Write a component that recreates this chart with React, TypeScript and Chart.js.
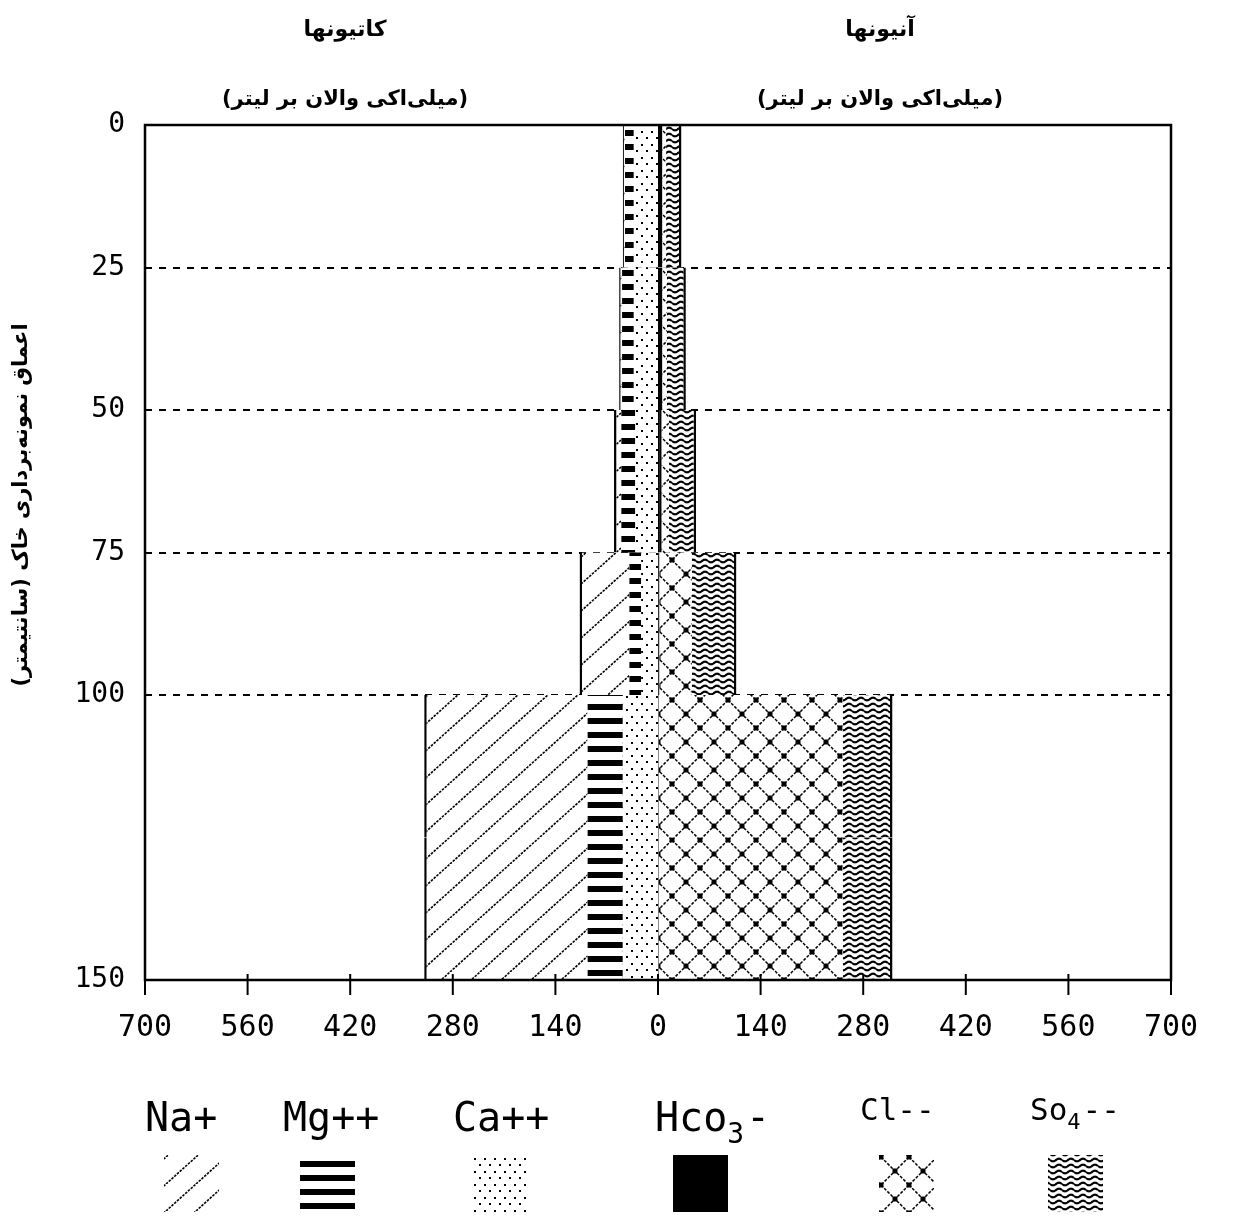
import { useEffect, useRef } from "react";
import { Chart, registerables } from "chart.js";

Chart.register(...registerables);

// Soil sampling layers (cm) and their ion concentrations (meq/L)
const depthBounds = [0, 25, 50, 75, 100, 150];
const depthTicks = [0, 25, 50, 75, 100, 150];
const xTickStep = 140;
const xLimit = 700;

// cations (drawn to the left)
const naValues = [3, 4, 10, 68, 223];
const mgValues = [12, 16, 19, 16, 48];
const caValues = [33, 33, 31, 23, 48];
// anions (drawn to the right)
const hco3Values = [6, 6, 5, 2, 1];
const clValues = [5, 6, 10, 44, 251];
const so4Values = [21, 26, 37, 61, 68];

const slotSize = 25;

// spread each layer value over the 25 cm slots it covers
function expand<T>(values: T[]): T[] {
  const out: T[] = [];
  for (let i = 0; i < values.length; i++) {
    const n = Math.round((depthBounds[i + 1] - depthBounds[i]) / slotSize);
    for (let k = 0; k < n; k++) out.push(values[i]);
  }
  return out;
}

const slotLabels: string[] = [];
for (let d = depthBounds[0]; d < depthBounds[depthBounds.length - 1]; d += slotSize) {
  slotLabels.push(String(d));
}

const monoFont = '"DejaVu Sans Mono", monospace';
const arabicFont = '"DejaVu Sans", sans-serif';

function makeTile(
  base: CanvasRenderingContext2D,
  w: number,
  h: number,
  draw: (c: CanvasRenderingContext2D) => void
): CanvasPattern {
  const tile = document.createElement("canvas");
  tile.width = w;
  tile.height = h;
  const c = tile.getContext("2d")!;
  c.fillStyle = "#fff";
  c.fillRect(0, 0, w, h);
  c.fillStyle = "#000";
  c.strokeStyle = "#000";
  draw(c);
  return base.createPattern(tile, "repeat")!;
}

function makePatterns(ctx: CanvasRenderingContext2D) {
  const na = makeTile(ctx, 30, 27, (c) => {
    c.lineWidth = 1.6;
    c.setLineDash([2.5, 1.2]);
    for (const o of [-30, 0, 30]) {
      c.beginPath();
      c.moveTo(o, 27);
      c.lineTo(o + 30, 0);
      c.stroke();
    }
  });
  const mg = makeTile(ctx, 8, 14, (c) => {
    c.fillRect(0, 4, 8, 6);
  });
  const ca = makeTile(ctx, 10, 13, (c) => {
    c.fillRect(1, 1, 2, 2);
    c.fillRect(6, 7, 2, 2);
  });
  const cl = makeTile(ctx, 28, 28, (c) => {
    c.lineWidth = 1.5;
    c.setLineDash([3, 1.5]);
    c.beginPath();
    c.moveTo(0, 0);
    c.lineTo(28, 28);
    c.moveTo(28, 0);
    c.lineTo(0, 28);
    c.stroke();
    const n = 5;
    const h = n / 2;
    c.fillRect(14 - h, 14 - h, n, n);
    c.fillRect(-h, -h, n, n);
    c.fillRect(28 - h, -h, n, n);
    c.fillRect(-h, 28 - h, n, n);
    c.fillRect(28 - h, 28 - h, n, n);
  });
  const so4 = makeTile(ctx, 12, 6, (c) => {
    c.lineWidth = 2.2;
    c.beginPath();
    for (let x = 0; x <= 12; x += 0.5) {
      const y = 3 + 1.3 * Math.sin((2 * Math.PI * x) / 12);
      if (x === 0) c.moveTo(x, y);
      else c.lineTo(x, y);
    }
    c.stroke();
  });
  return { na, mg, ca, hco3: "#000" as string | CanvasPattern, cl, so4 };
}

const App = () => {
  const canvasRef = useRef<HTMLCanvasElement>(null);

  useEffect(() => {
    const canvas = canvasRef.current!;
    const ctx = canvas.getContext("2d")!;
    const pat = makePatterns(ctx);
    const key = makePatterns(ctx);

    const series = [
      { label: "Ca++", values: caValues, sign: -1, fill: pat.ca, border: {} },
      { label: "Mg++", values: mgValues, sign: -1, fill: pat.mg, border: {} },
      { label: "Na+", values: naValues, sign: -1, fill: pat.na, border: { left: 2.5 } },
      { label: "Hco3-", values: hco3Values, sign: 1, fill: pat.hco3, border: { left: 2 } },
      { label: "Cl--", values: clValues, sign: 1, fill: pat.cl, border: {} },
      { label: "So4--", values: so4Values, sign: 1, fill: pat.so4, border: { right: 2.5 } },
    ];

    const swatchTop = 1155;
    const legendItems = [
      { parts: ["Na+"], sub: [false], size: 40, x: 145, base: 1131, fill: key.na, sx: 164 },
      { parts: ["Mg++"], sub: [false], size: 40, x: 283, base: 1131, fill: key.mg, sx: 300 },
      { parts: ["Ca++"], sub: [false], size: 40, x: 453, base: 1131, fill: key.ca, sx: 471 },
      { parts: ["Hco", "3", "-"], sub: [false, true, false], size: 40, x: 655, base: 1131, fill: key.hco3, sx: 673 },
      { parts: ["Cl--"], sub: [false], size: 31, x: 860, base: 1120, fill: key.cl, sx: 879 },
      { parts: ["So", "4", "--"], sub: [false, true, false], size: 31, x: 1030, base: 1120, fill: key.so4, sx: 1048 },
    ];
    // anchor each key pattern at its own swatch
    for (const item of legendItems) {
      const f: any = item.fill;
      if (f && typeof f.setTransform === "function") {
        f.setTransform(new DOMMatrix().translate(item.sx + 2, swatchTop + 2));
      }
    }

    const decorations = {
      id: "decorations",
      afterDraw(chart: any) {
        const c: CanvasRenderingContext2D = chart.ctx;
        const a = chart.chartArea;
        const xs = chart.scales.x;
        c.save();
        c.strokeStyle = "#000";
        c.fillStyle = "#000";

        // plot frame
        c.lineWidth = 2.5;
        c.strokeRect(a.left, a.top, a.right - a.left, a.bottom - a.top);

        // x tick marks crossing the bottom axis
        c.lineWidth = 2;
        for (const t of xs.ticks) {
          const px = xs.getPixelForValue(t.value);
          c.beginPath();
          c.moveTo(px, a.bottom - 6);
          c.lineTo(px, a.bottom + 15);
          c.stroke();
        }

        // headings
        c.direction = "rtl";
        c.textAlign = "center";
        c.textBaseline = "middle";
        c.font = `bold 22px ${arabicFont}`;
        c.fillText("کاتیونها", 345, 30);
        c.fillText("آنیونها", 880, 30);
        c.font = `bold 21px ${arabicFont}`;
        c.fillText("(میلی‌اکی والان بر لیتر)", 345, 100);
        c.fillText("(میلی‌اکی والان بر لیتر)", 880, 100);

        // depth axis title
        c.save();
        c.translate(22, 505);
        c.rotate(-Math.PI / 2);
        c.font = `bold 21px ${arabicFont}`;
        c.fillText("اعماق نمونه‌برداری خاک (سانتیمتر)", 0, 0);
        c.restore();

        // legend: label above a patterned swatch
        c.direction = "ltr";
        c.textAlign = "left";
        c.textBaseline = "alphabetic";
        for (const item of legendItems) {
          let x = item.x;
          item.parts.forEach((p, i) => {
            const isSub = item.sub[i];
            const size = isSub ? Math.round(item.size * 0.7) : item.size;
            c.font = `${size}px ${monoFont}`;
            c.fillText(p, x, item.base + (isSub ? Math.round(item.size * 0.3) : 0));
            x += c.measureText(p).width + (isSub ? 2 : 0);
          });
          c.fillStyle = item.fill as any;
          c.fillRect(item.sx, swatchTop, 55, 57);
          c.fillStyle = "#000";
        }
        c.restore();
      },
    };

    const chart = new Chart(canvas, {
      type: "bar",
      data: {
        labels: slotLabels,
        datasets: series.map((s) => ({
          label: s.label,
          data: expand(s.values).map((v) => s.sign * v),
          backgroundColor: s.fill as any,
          borderColor: "#000",
          borderWidth: s.border as any,
          borderSkipped: false,
          inflateAmount: 0,
          barPercentage: 1,
          categoryPercentage: 1,
        })),
      },
      options: {
        indexAxis: "y",
        animation: false,
        responsive: false,
        maintainAspectRatio: false,
        devicePixelRatio: 1,
        layout: { padding: { left: 0, right: 63, top: 125, bottom: 0 } },
        plugins: {
          legend: { display: false },
          tooltip: { enabled: false },
          title: { display: false },
        },
        scales: {
          x: {
            type: "linear",
            stacked: true,
            min: -xLimit,
            max: xLimit,
            afterFit: (scale: any) => {
              scale.height = 240;
            },
            ticks: {
              stepSize: xTickStep,
              padding: 22,
              color: "#000",
              font: { family: monoFont, size: 30 },
              maxRotation: 0,
              autoSkip: false,
              callback: (v: any) => String(Math.abs(Number(v))),
            },
            grid: { display: false },
            border: { display: false },
          },
          y: {
            type: "category",
            stacked: true,
            display: false,
          },
          depth: {
            type: "linear",
            position: "left",
            reverse: true,
            offset: false,
            min: depthBounds[0],
            max: depthBounds[depthBounds.length - 1],
            z: 1,
            afterFit: (scale: any) => {
              scale.width = 145;
            },
            afterBuildTicks: (scale: any) => {
              scale.ticks = depthTicks.map((v) => ({ value: v }));
            },
            ticks: {
              padding: 20,
              color: "#000",
              font: { family: monoFont, size: 28 },
              autoSkip: false,
            },
            grid: {
              offset: false,
              drawTicks: false,
              lineWidth: 2,
              color: (c: any) =>
                c.tick && (c.tick.value === depthBounds[0] || c.tick.value === depthBounds[depthBounds.length - 1])
                  ? "rgba(0,0,0,0)"
                  : "#000",
            },
            border: { display: false, dash: [7, 7] },
          },
        } as any,
      },
      plugins: [decorations],
    });

    return () => chart.destroy();
  }, []);

  return (
    <div style={{ position: "absolute", left: 0, top: 0, width: 1234, height: 1220, background: "#fff" }}>
      <canvas ref={canvasRef} width={1234} height={1220} style={{ display: "block", width: 1234, height: 1220 }} />
    </div>
  );
};

export default App;
